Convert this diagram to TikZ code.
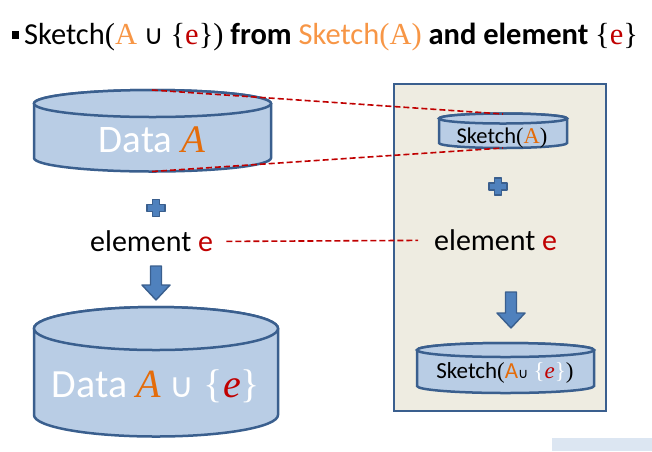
\documentclass[tikz,border=0pt]{standalone}
\usepackage{fontspec}
\setmainfont{Carlito}
\newfontfamily\cambria{Liberation Serif}
\newfontfamily\symb{DejaVu Sans}
\usepackage{xcolor}
\definecolor{disk-fill}{HTML}{B9CDE5}
\definecolor{disk-line}{HTML}{3A5F8E}
\definecolor{panel-fill}{HTML}{EEECE1}
\definecolor{dark-orange}{HTML}{E46C0A}
\definecolor{light-orange}{HTML}{F79646}
\definecolor{elem-red}{HTML}{C00000}
\definecolor{plus-blue}{HTML}{4F81BD}
\definecolor{corner-blue}{HTML}{DCE6F2}
\usepackage{tikz}

\tikzset{
    disk/.style={fill=disk-fill, draw=disk-line, line width=2.5pt},
    link/.style={draw=elem-red, dash pattern=on 6pt off 3pt, line width=1.6pt},
    blockshape/.style={fill=plus-blue, draw=disk-line, line width=1.4pt, line join=round},
    label/.style={inner sep=0pt, anchor=base},
}

% cylinder: centre x, top y, bottom y, x radius, y radius
\newcommand{\drum}[5]{
    \filldraw[disk] (#1-#4, #2) -- (#1-#4, #3) arc (180:360:#4 and #5)
        -- (#1+#4, #2) arc (0:180:#4 and #5) -- cycle;
    \draw[disk] (#1, #2) ellipse (#4 and #5);
}
% plus sign: centre x, centre y
\newcommand{\plussign}[2]{
    \filldraw[blockshape] (#1-3.5, #2+8.5) -- (#1+3.5, #2+8.5) -- (#1+3.5, #2+3.5)
        -- (#1+9, #2+3.5) -- (#1+9, #2-3.5) -- (#1+3.5, #2-3.5) -- (#1+3.5, #2-8.5)
        -- (#1-3.5, #2-8.5) -- (#1-3.5, #2-3.5) -- (#1-9, #2-3.5) -- (#1-9, #2+3.5)
        -- (#1-3.5, #2+3.5) -- cycle;
}
% down arrow: centre x, top y, head y, tip y
\newcommand{\downblock}[4]{
    \filldraw[blockshape] (#1-5.5, #2) -- (#1+5.5, #2) -- (#1+5.5, #3) -- (#1+14, #3)
        -- (#1, #4) -- (#1-14, #3) -- (#1-5.5, #3) -- cycle;
}

\begin{document}
\begin{tikzpicture}[x=1pt, y=1pt]

    % Frame
    \useasboundingbox (0, 0) rectangle (652, -451);

    % Title
    \fill (12, -31) rectangle (19, -39);
    \node[label, anchor=base west] (title) at (24, -44) {\fontsize{30.5}{32}\selectfont
        Sketch{\cambria(}{\color{light-orange}\cambria A} {\symb\fontsize{27}{29}\selectfont ∪}
        {\cambria\{}{\color{elem-red}\cambria e}{\cambria\})}
        \textbf{from} {\color{light-orange}Sketch{\cambria(A)}}
        \textbf{and element} {\cambria\{}{\color{elem-red}\cambria e}{\cambria\}}};

    % Right panel
    \filldraw[fill=panel-fill, draw=disk-line, line width=2.5pt] (394, -84) rectangle (606, -411);

    % Left side
    \drum{152.5}{-103.5}{-158}{118.5}{13.5}
    \coordinate (dataA-rim) at (152, -90);
    \coordinate (dataA-base) at (152, -171.5);
    \node[label] (dataA) at (152, -152) {\fontsize{39}{42}\selectfont
        \color{white}Data {\cambria\itshape\color{dark-orange}A}};

    \plussign{156}{-208}

    \node[label, anchor=base west] (elemL) at (90, -251.7) {\fontsize{30}{32}\selectfont
        element {\color{elem-red}e}};

    \downblock{156}{-266}{-285}{-300}

    \drum{156}{-328.5}{-415}{122}{21.5}
    \node[label] (dataAe) at (156, -397) {\fontsize{40}{43}\selectfont
        \color{white}Data {\cambria\itshape\color{dark-orange}A} {\symb\fontsize{34}{36}\selectfont ∪}
        {\cambria\{{\itshape\color{elem-red}e}\}}};

    % Right side
    \drum{503}{-118.5}{-143}{64}{5}
    \coordinate (sketchA-rim) at (503, -114);
    \coordinate (sketchA-base) at (503, -148);
    \node[label] (sketchA) at (502, -143) {\fontsize{22.5}{24}\selectfont
        Sketch{\cambria(}{\cambria\color{dark-orange}A}{\cambria)}};

    \plussign{498}{-186.5}

    \node[label, anchor=base west] (elemR) at (434, -250.7) {\fontsize{30}{32}\selectfont
        element {\color{elem-red}e}};

    \downblock{511}{-292}{-313}{-328}

    \drum{505.5}{-350}{-386}{88.5}{7}
    \node[label] (sketchAe) at (505, -378) {\fontsize{23}{25}\selectfont
        Sketch{\cambria(}{\color{dark-orange}A}{\symb\fontsize{14}{16}\selectfont ∪}
        {\cambria\color{white}\{}{\cambria\itshape\color{elem-red}e}{\cambria\color{white}\}}{\cambria)}};

    % Links
    \draw[link] (dataA-rim) -- (sketchA-rim);
    \draw[link] (dataA-base) -- (sketchA-base);
    \draw[link] ([xshift=13pt]elemL.east) -- ([xshift=-16pt]elemR.west);

    % Corner
    \fill[corner-blue] (552, -438) rectangle (652, -451);

\end{tikzpicture}
\end{document}
